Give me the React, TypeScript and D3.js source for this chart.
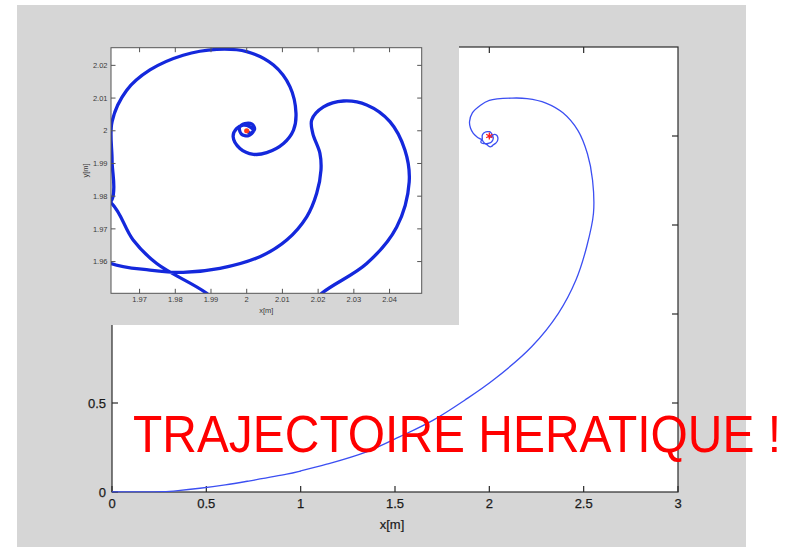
import React from "react";
import * as d3 from "d3";

// Tick values for the full trajectory axes
const xTicksMain = [0, 0.5, 1, 1.5, 2, 2.5, 3];
const xTickLabelsMain = ["0", "0.5", "1", "1.5", "2", "2.5", "3"];
const yTicksMainLeft = [0, 0.5, 1, 1.5, 2];
const yTickLabelsMainLeft = ["0", "0.5"];
const yTicksMainRight = [0.5, 1, 1.5, 2];
const xTicksMainTop = [0.5, 1, 1.5, 2, 2.5];

// Tick values for the zoomed view around the target
const xTicksZoom = [1.97, 1.98, 1.99, 2, 2.01, 2.02, 2.03, 2.04];
const xTickLabelsZoom = ["1.97", "1.98", "1.99", "2", "2.01", "2.02", "2.03", "2.04"];
const yTicksZoom = [1.96, 1.97, 1.98, 1.99, 2, 2.01, 2.02];
const yTickLabelsZoom = ["1.96", "1.97", "1.98", "1.99", "2", "2.01", "2.02"];

// Robot trajectory: coarse approach from the origin to the target area [x, y] in metres
const approachPath: [number, number][] = [
  [0, 0], [0.1, 0.0005], [0.2, 0.001], [0.27, 0.002], [0.35, 0.008],
  [0.466, 0.021], [0.6, 0.04], [0.731, 0.063], [0.926, 0.1], [1.0, 0.118],
  [1.138, 0.156], [1.349, 0.226], [1.526, 0.311], [1.703, 0.404], [1.871, 0.517],
  [2.021, 0.629], [2.224, 0.816], [2.366, 1.004], [2.459, 1.191], [2.516, 1.378],
  [2.552, 1.566], [2.547, 1.753], [2.52, 1.9], [2.47, 2.03], [2.39, 2.13],
  [2.3, 2.185], [2.2, 2.21], [2.12, 2.213], [2.0, 2.2], [1.95, 2.17],
  [1.91, 2.13], [1.895, 2.08], [1.9, 2.045], [1.915, 2.015], [1.935, 1.995],
  [1.95, 1.985], [1.962, 1.978],
];

// Final spiral around the target (fine resolution)
const spiralPath: [number, number][] = [
  [1.9682, 1.9666], [1.9748, 1.9594], [1.9888, 1.9503], [1.995, 1.944], [2.005, 1.939],
  [2.014, 1.943], [2.021, 1.9503], [2.0336, 1.9594], [2.042, 1.9706], [2.0455, 1.9844],
  [2.0443, 1.9941], [2.0401, 2.0028], [2.0336, 2.0079], [2.0271, 2.0091], [2.0215, 2.0073],
  [2.0182, 2.0033], [2.0185, 1.9992], [2.0205, 1.9931], [2.0208, 1.988], [2.0196, 1.9809],
  [2.0168, 1.9737], [2.0112, 1.9666], [2.0037, 1.9615], [1.9925, 1.9579], [1.9822, 1.9567],
  [1.9729, 1.9574], [1.962, 1.9594], [1.956, 1.964], [1.9565, 1.973], [1.9623, 1.979],
  [1.9623, 1.991], [1.9623, 2.0028], [1.9664, 2.0124], [1.9729, 2.0186], [1.9822, 2.0231],
  [1.9916, 2.0249], [2.0, 2.0242], [2.0075, 2.0201], [2.0121, 2.0135], [2.0138, 2.0053],
  [2.0131, 2.0002], [2.0103, 1.9961], [2.0056, 1.9933], [2.0019, 1.9928], [1.9981, 1.9946],
  [1.9962, 1.9982], [1.9972, 2.0007], [1.999, 2.0017], [2.0009, 2.0012], [2.0019, 2.0],
  [2.0005, 1.9985], [1.9985, 1.999], [1.998, 2.001], [1.9995, 2.0022], [2.0015, 2.002],
  [2.0022, 2.0005], [2.001, 1.9993], [2.0, 2.0],
];

const target: [number, number] = [2, 2];
const title = "TRAJECTOIRE HERATIQUE !";

const FONT = "'Liberation Sans', Arial, Helvetica, sans-serif";
const W = 785;
const H = 547;

// Layout boxes
const bg = { x0: 17, y0: 5, x1: 746, y1: 547 };
const mainBox = { left: 112, right: 678, top: 47, bottom: 492 };
const panel = { x0: 17, y0: 5, x1: 459, y1: 325 };
const zoomBox = { left: 111, right: 421.7, top: 47.7, bottom: 293.3 };

export default function App() {
  const trajectory = [...approachPath, ...spiralPath];

  const xMain = d3.scaleLinear().domain([0, 3]).range([mainBox.left, mainBox.right]);
  const yMain = d3.scaleLinear().domain([0, 2.5]).range([mainBox.bottom, mainBox.top]);

  const xZoom = d3.scaleLinear().domain([1.962, 2.049]).range([zoomBox.left, zoomBox.right]);
  const yZoom = d3.scaleLinear().domain([1.9503, 2.0254]).range([zoomBox.bottom, zoomBox.top]);

  const lineMain = d3
    .line<[number, number]>()
    .x((d) => xMain(d[0]))
    .y((d) => yMain(d[1]))
    .curve(d3.curveCatmullRom.alpha(0.5));

  const lineZoom = d3
    .line<[number, number]>()
    .x((d) => xZoom(d[0]))
    .y((d) => yZoom(d[1]))
    .curve(d3.curveCatmullRom.alpha(0.5));

  const asterisk = d3.symbol().type((d3 as any).symbolAsterisk || d3.symbolCross).size(36)();

  const tickLen = 6;
  const zTick = 4.5;
  const axisColor = "#2a2a2a";
  const labelColor = "#1a1a1a";

  return (
    <svg
      width={W}
      height={H}
      style={{ position: "absolute", left: 0, top: 0, display: "block" }}
      fontFamily={FONT}
    >
      <defs>
        <clipPath id="clip-main">
          <rect
            x={mainBox.left}
            y={mainBox.top - 1}
            width={mainBox.right - mainBox.left}
            height={mainBox.bottom - mainBox.top + 1.5}
          />
        </clipPath>
        <clipPath id="clip-zoom">
          <rect
            x={zoomBox.left}
            y={zoomBox.top}
            width={zoomBox.right - zoomBox.left}
            height={zoomBox.bottom - zoomBox.top}
          />
        </clipPath>
      </defs>

      <rect x={0} y={0} width={W} height={H} fill="#ffffff" />
      <rect x={bg.x0} y={bg.y0} width={bg.x1 - bg.x0} height={bg.y1 - bg.y0} fill="#d6d6d6" />

      {/* Full trajectory plot */}
      <rect
        x={mainBox.left}
        y={mainBox.top}
        width={mainBox.right - mainBox.left}
        height={mainBox.bottom - mainBox.top}
        fill="#ffffff"
      />
      <rect
        x={mainBox.left}
        y={mainBox.top}
        width={mainBox.right - mainBox.left}
        height={mainBox.bottom - mainBox.top}
        fill="none"
        stroke={axisColor}
        strokeWidth={1.2}
      />
      {xTicksMain.map((v, i) => (
        <g key={`xm${i}`}>
          <line
            x1={xMain(v)}
            x2={xMain(v)}
            y1={mainBox.bottom}
            y2={mainBox.bottom - tickLen}
            stroke={axisColor}
            strokeWidth={1.2}
          />
          <text
            x={xMain(v)}
            y={mainBox.bottom + 16}
            textAnchor="middle"
            fontSize={13}
            fill={labelColor}
            stroke={labelColor}
            strokeWidth={0.25}
          >
            {xTickLabelsMain[i]}
          </text>
        </g>
      ))}
      {xTicksMainTop.map((v, i) => (
        <line
          key={`xt${i}`}
          x1={xMain(v)}
          x2={xMain(v)}
          y1={mainBox.top}
          y2={mainBox.top + tickLen}
          stroke={axisColor}
          strokeWidth={1.2}
        />
      ))}
      {yTicksMainLeft.map((v, i) => (
        <line
          key={`yl${i}`}
          x1={mainBox.left}
          x2={mainBox.left + tickLen}
          y1={yMain(v)}
          y2={yMain(v)}
          stroke={axisColor}
          strokeWidth={1.2}
        />
      ))}
      {yTickLabelsMainLeft.map((lab, i) => (
        <text
          key={`yll${i}`}
          x={mainBox.left - 6}
          y={yMain(yTicksMainLeft[i]) + 4.6}
          textAnchor="end"
          fontSize={13}
          fill={labelColor}
          stroke={labelColor}
          strokeWidth={0.25}
        >
          {lab}
        </text>
      ))}
      {yTicksMainRight.map((v, i) => (
        <line
          key={`yr${i}`}
          x1={mainBox.right}
          x2={mainBox.right - tickLen}
          y1={yMain(v)}
          y2={yMain(v)}
          stroke={axisColor}
          strokeWidth={1.2}
        />
      ))}
      <text x={392} y={529} textAnchor="middle" fontSize={13} fill={labelColor} stroke={labelColor} strokeWidth={0.2}>
        x[m]
      </text>
      <g clipPath="url(#clip-main)">
        <path d={lineMain(trajectory) || ""} fill="none" stroke="#3c4ff2" strokeWidth={1.3} />
      </g>
      <path
        d={asterisk || ""}
        transform={`translate(${xMain(target[0])},${yMain(target[1])})`}
        fill="none"
        stroke="#ff1a1a"
        strokeWidth={1.3}
      />

      {/* Zoomed view around the target */}
      <rect x={panel.x0} y={panel.y0} width={panel.x1 - panel.x0} height={panel.y1 - panel.y0} fill="#d6d6d6" />
      <rect
        x={zoomBox.left}
        y={zoomBox.top}
        width={zoomBox.right - zoomBox.left}
        height={zoomBox.bottom - zoomBox.top}
        fill="#ffffff"
      />
      <g clipPath="url(#clip-zoom)">
        <path
          d={lineZoom(trajectory) || ""}
          fill="none"
          stroke="#1428dc"
          strokeWidth={3.3}
          strokeLinejoin="round"
          strokeLinecap="round"
        />
      </g>
      <circle cx={xZoom(target[0])} cy={yZoom(target[1])} r={2.6} fill="#ff3b1a" />
      <rect
        x={zoomBox.left}
        y={zoomBox.top}
        width={zoomBox.right - zoomBox.left}
        height={zoomBox.bottom - zoomBox.top}
        fill="none"
        stroke="#555"
        strokeWidth={1}
      />
      {xTicksZoom.map((v, i) => (
        <g key={`xz${i}`}>
          <line x1={xZoom(v)} x2={xZoom(v)} y1={zoomBox.bottom} y2={zoomBox.bottom - zTick} stroke="#555" />
          <line x1={xZoom(v)} x2={xZoom(v)} y1={zoomBox.top} y2={zoomBox.top + zTick} stroke="#555" />
          <text x={xZoom(v)} y={zoomBox.bottom + 8.5} textAnchor="middle" fontSize={7.5} fill="#3a3a3a">
            {xTickLabelsZoom[i]}
          </text>
        </g>
      ))}
      {yTicksZoom.map((v, i) => (
        <g key={`yz${i}`}>
          <line x1={zoomBox.left} x2={zoomBox.left + zTick} y1={yZoom(v)} y2={yZoom(v)} stroke="#555" />
          <line x1={zoomBox.right} x2={zoomBox.right - zTick} y1={yZoom(v)} y2={yZoom(v)} stroke="#555" />
          <text x={zoomBox.left - 3.5} y={yZoom(v) + 2.7} textAnchor="end" fontSize={7.5} fill="#3a3a3a">
            {yTickLabelsZoom[i]}
          </text>
        </g>
      ))}
      <text
        x={(zoomBox.left + zoomBox.right) / 2}
        y={zoomBox.bottom + 20}
        textAnchor="middle"
        fontSize={7.5}
        fill="#3a3a3a"
      >
        x[m]
      </text>
      <text
        transform={`translate(${87.5},${(zoomBox.top + zoomBox.bottom) / 2}) rotate(-90)`}
        textAnchor="middle"
        fontSize={7.5}
        fill="#3a3a3a"
      >
        y[m]
      </text>

      {/* Annotation */}
      <text x={133} y={452} fontSize={51} fill="#ff0000" textLength={648} lengthAdjust="spacingAndGlyphs">
        {title}
      </text>
    </svg>
  );
}
